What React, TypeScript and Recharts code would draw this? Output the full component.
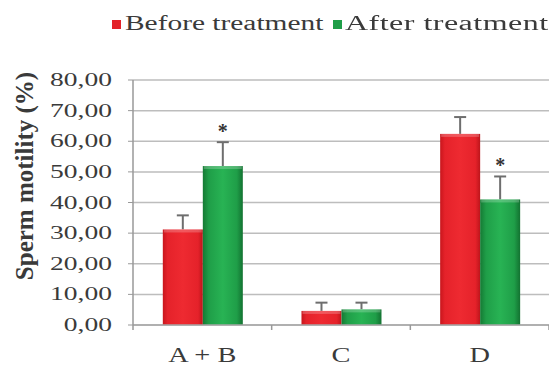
import React from 'react';
import { BarChart, Bar, XAxis, YAxis, CartesianGrid, Legend, Label } from 'recharts';

const groups = ['A + B', 'C', 'D'];
const beforeVals = [31.2, 4.6, 62.4];
const afterVals = [51.9, 5.1, 41.0];
const beforeErr = [4.6, 2.7, 5.5];
const afterErr = [7.8, 2.2, 7.5];
const afterSig = ['*', '', '*'];
const yTicks = [0, 10, 20, 30, 40, 50, 60, 70, 80];

const data = groups.map((g, i) => ({
  group: g,
  before: beforeVals[i],
  after: afterVals[i],
  beforeErr: beforeErr[i],
  afterErr: afterErr[i],
  sig: afterSig[i],
}));

const serif = '"Liberation Serif", "Times New Roman", serif';
const textColor = '#3a3a3a';

const fmt = (v: number) => v.toFixed(2).replace('.', ',');

const YTick = (props: any) => {
  const { x, y, payload } = props;
  return (
    <text
      transform={`translate(${x},${y}) scale(1.45,1)`}
      textAnchor="end"
      dy={6}
      fontFamily={serif}
      fontSize={19}
      fill={textColor}
    >
      {fmt(payload.value)}
    </text>
  );
};

const XTick = (props: any) => {
  const { x, y, payload, index, width } = props;
  const band = width ? width / groups.length : 0;
  return (
    <g>
      {band > 0 && (
        <line x1={x - band / 2} x2={x - band / 2} y1={y} y2={y + 5} stroke="#999" strokeWidth={1.5} />
      )}
      {band > 0 && index === groups.length - 1 && (
        <line x1={x + band / 2} x2={x + band / 2} y1={y} y2={y + 5} stroke="#999" strokeWidth={1.5} />
      )}
      <text
        transform={`translate(${x},${y + 37}) scale(1.35,1)`}
        textAnchor="middle"
        fontFamily={serif}
        fontSize={21}
        fill={textColor}
      >
        {payload.value}
      </text>
    </g>
  );
};

const makeShape = (valKey: string, errKey: string, gradId: string, sigKey?: string) => (props: any) => {
  const { x, y, width, height, payload } = props;
  const val = payload[valKey];
  const perUnit = val ? height / val : 0;
  const errPx = payload[errKey] * perUnit;
  const cx = x + width / 2;
  const top = y - errPx;
  const sig = sigKey ? payload[sigKey] : '';
  return (
    <g>
      <line x1={cx} x2={cx} y1={y} y2={top} stroke="#6e6e6e" strokeWidth={2} />
      <line x1={cx - 6} x2={cx + 6} y1={top} y2={top} stroke="#6e6e6e" strokeWidth={2} />
      <rect x={x} y={y} width={width} height={height} fill={`url(#${gradId})`} />
      <rect x={x + 1} y={y} width={width - 2} height={Math.min(3, height)} fill="#ffffff" opacity={0.22} />
      {sig && (
        <text x={cx} y={top - 4} textAnchor="middle" fontFamily={serif} fontSize={20} fontWeight="bold" fill="#333">
          {sig}
        </text>
      )}
    </g>
  );
};

const LegendContent = () => (
  <div style={{ position: 'relative', height: 30, fontFamily: serif, fontSize: 20, color: textColor }}>
    <div style={{ position: 'absolute', left: 0, top: 10, width: 9, height: 9, background: '#e32229' }} />
    <div style={{ position: 'absolute', left: 13, top: 2, whiteSpace: 'nowrap', transform: 'scaleX(1.47)', transformOrigin: 'left' }}>
      Before treatment
    </div>
    <div style={{ position: 'absolute', left: 221, top: 10, width: 9, height: 9, background: '#1f9e48' }} />
    <div style={{ position: 'absolute', left: 233, top: 2, whiteSpace: 'nowrap', transform: 'scaleX(1.6)', transformOrigin: 'left', letterSpacing: 0.3 }}>
      After treatment
    </div>
  </div>
);

export default function App() {
  return (
    <div style={{ position: 'fixed', left: 0, top: 0, width: 549, height: 367, background: '#fff' }}>
      <BarChart
        width={549}
        height={367}
        data={data}
        margin={{ top: 50, right: 0, bottom: 0, left: 0 }}
        barCategoryGap="21.5%"
        barGap={0}
      >
        <defs>
          <linearGradient id="redGrad" x1="0" y1="0" x2="1" y2="0">
            <stop offset="0%" stopColor="#c8161d" />
            <stop offset="12%" stopColor="#e5222a" />
            <stop offset="50%" stopColor="#ee2a31" />
            <stop offset="88%" stopColor="#e5222a" />
            <stop offset="100%" stopColor="#bd151b" />
          </linearGradient>
          <linearGradient id="greenGrad" x1="0" y1="0" x2="1" y2="0">
            <stop offset="0%" stopColor="#157a34" />
            <stop offset="15%" stopColor="#1f9e48" />
            <stop offset="50%" stopColor="#28b354" />
            <stop offset="85%" stopColor="#1f9e48" />
            <stop offset="100%" stopColor="#137231" />
          </linearGradient>
        </defs>
        <CartesianGrid vertical={false} stroke="#bdbdbd" strokeWidth={1.5} />
        <XAxis
          dataKey="group"
          height={42}
          tick={<XTick />}
          tickLine={false}
          tickSize={0}
          tickMargin={0}
          axisLine={{ stroke: '#a6a6a6', strokeWidth: 1.5 }}
          interval={0}
        />
        <YAxis
          width={133}
          domain={[0, 80]}
          ticks={yTicks}
          tick={<YTick />}
          tickSize={5}
          tickMargin={16}
          tickLine={{ stroke: '#999' }}
          axisLine={{ stroke: '#999', strokeWidth: 1.5 }}
          interval={0}
        >
          <Label
            content={() => (
              <text
                transform="translate(24,176) rotate(-90)"
                textAnchor="middle"
                dominantBaseline="central"
                fontFamily={serif}
                fontWeight="bold"
                fontSize={25}
                fill={textColor}
              >
                Sperm motility (%)
              </text>
            )}
          />
        </YAxis>
        <Legend
          verticalAlign="top"
          content={<LegendContent />}
          wrapperStyle={{ position: 'absolute', top: 10, left: 112, width: 437, height: 30 }}
        />
        <Bar
          dataKey="before"
          name="Before treatment"
          fill="#e32229"
          isAnimationActive={false}
          shape={makeShape('before', 'beforeErr', 'redGrad')}
        />
        <Bar
          dataKey="after"
          name="After treatment"
          fill="#1f9e48"
          isAnimationActive={false}
          shape={makeShape('after', 'afterErr', 'greenGrad', 'sig')}
        />
      </BarChart>
    </div>
  );
}
